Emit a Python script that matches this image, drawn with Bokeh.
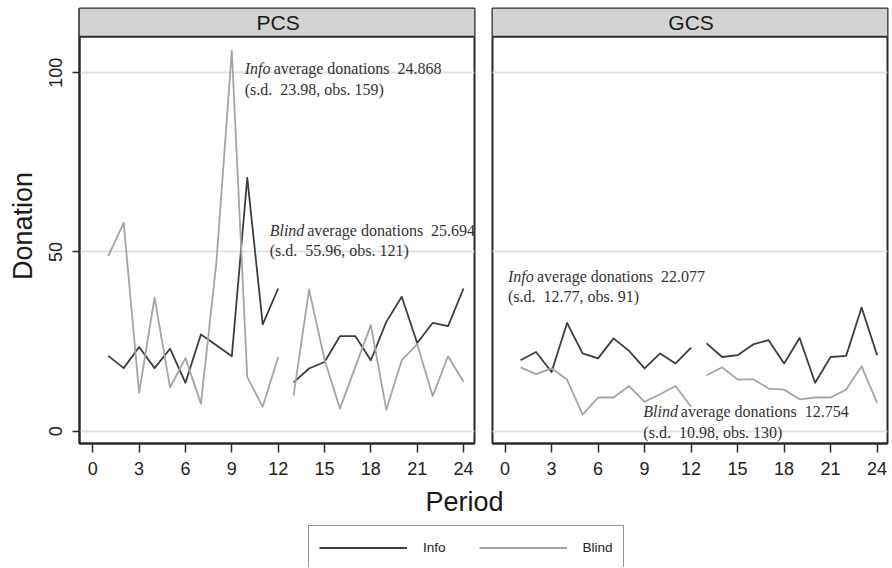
from bokeh.plotting import figure
from bokeh.models import (Label, Span, BoxAnnotation, FixedTicker, Legend, LegendItem,
                          Range1d, Grid)
from bokeh.layouts import column, row
from bokeh.embed import file_html
from bokeh.resources import INLINE

# ---------------- data ----------------
periods = list(range(1, 25))
x_ticks = [0, 3, 6, 9, 12, 15, 18, 21, 24]
y_ticks = [0, 50, 100]
panel_names = ["PCS", "GCS"]

pcs_info = [21.0, 17.6, 23.5, 17.6, 23.0, 13.5, 27.0, 24.0, 20.9, 70.7, 29.8, 39.8,
            13.6, 17.5, 19.3, 26.5, 26.5, 19.8, 30.5, 37.5, 24.6, 30.2, 29.3, 39.8]
pcs_blind = [48.8, 58.1, 10.7, 37.3, 12.2, 20.4, 7.7, 47.0, 106.1, 15.1, 6.8, 20.7,
             10.0, 39.5, 20.0, 6.3, 18.0, 29.6, 6.0, 19.8, 24.3, 9.8, 20.9, 13.8]
gcs_info = [19.8, 22.1, 16.5, 30.2, 21.7, 20.3, 25.9, 22.4, 17.5, 21.7, 18.9, 23.3,
            24.5, 20.7, 21.2, 24.2, 25.4, 18.9, 26.0, 13.5, 20.7, 21.0, 34.5, 21.2]
gcs_blind = [17.8, 15.9, 17.5, 14.4, 4.6, 9.4, 9.4, 12.6, 8.2, 10.3, 12.6, 6.8,
             15.6, 17.8, 14.4, 14.5, 11.9, 11.6, 8.9, 9.4, 9.4, 11.6, 18.1, 7.9]

series_labels = ["Info", "Blind"]

# annotation texts
ann_panel = ["PCS", "PCS", "GCS", "GCS"]
ann_word = ["Info", "Blind", "Info", "Blind"]
ann_mean = ["24.868", "25.694", "22.077", "12.754"]
ann_sd = ["23.98", "55.96", "12.77", "10.98"]
ann_obs = ["159", "121", "91", "130"]
ann_x = [9.83, 11.45, 0.19, 8.92]
ann_y1 = [101.2, 56.1, 43.1, 5.4]
ann_y2 = [95.3, 50.5, 37.5, -0.4]

# ---------------- style ----------------
INFO_COLOR = "#3d3d3d"
BLIND_COLOR = "#a5a5a5"
FRAME = "#2a2a2a"
GRID = "#e2e2e2"
STRIP = "#d3d3d3"
SANS = "Liberation Sans"
SERIF = "Liberation Serif"
word_offset = {"Info": 29, "Blind": 37.5}

Y0, Y1 = -3.43, 117.9
STRIP_BOTTOM = 110.05
NAN = float("nan")


def make_panel(name, info, blind, left_border, right_border, frame_w, xr, show_y):
    p = figure(frame_width=frame_w, frame_height=435,
               min_border_left=left_border, min_border_right=right_border,
               min_border_top=8, min_border_bottom=36,
               x_range=Range1d(*xr), y_range=Range1d(Y0, Y1),
               output_backend="svg", toolbar_location=None,
               y_axis_location="left" if show_y else None)
    p.background_fill_color = "white"
    p.border_fill_color = "white"
    p.outline_line_color = FRAME
    p.outline_line_width = 2
    p.grid.visible = False
    p.add_layout(Grid(dimension=1, ticker=FixedTicker(ticks=y_ticks),
                      grid_line_color=GRID, grid_line_width=2))

    xa = p.xaxis[0]
    xa.ticker = FixedTicker(ticks=x_ticks)
    xa.major_tick_out = 9
    xa.major_tick_in = 0
    xa.minor_tick_line_color = None
    xa.major_tick_line_color = FRAME
    xa.major_tick_line_width = 1.5
    xa.axis_line_color = FRAME
    xa.axis_line_width = 2
    xa.major_label_text_font = SANS
    xa.major_label_text_font_size = "18px"
    xa.major_label_text_color = "#222222"
    xa.major_label_standoff = 9

    if show_y:
        ya = p.yaxis[0]
        ya.ticker = FixedTicker(ticks=y_ticks)
        ya.major_label_orientation = "vertical"
        ya.major_tick_out = 7
        ya.major_tick_in = 0
        ya.minor_tick_line_color = None
        ya.major_tick_line_color = FRAME
        ya.major_tick_line_width = 1.5
        ya.axis_line_color = FRAME
        ya.axis_line_width = 2
        ya.major_label_text_font = SANS
        ya.major_label_text_font_size = "18px"
        ya.major_label_text_color = "#222222"
        ya.major_label_standoff = 10
        ya.axis_label = "Donation"
        ya.axis_label_text_font = SANS
        ya.axis_label_text_font_size = "27px"
        ya.axis_label_text_font_style = "normal"
        ya.axis_label_text_color = "#1a1a1a"
        ya.axis_label_standoff = 9

    for vals, col in [(info, INFO_COLOR), (blind, BLIND_COLOR)]:
        for a, b in [(0, 12), (12, 24)]:
            p.line(periods[a:b], vals[a:b], line_color=col, line_width=1.8,
                   line_join="round")

    # strip
    p.add_layout(BoxAnnotation(bottom=STRIP_BOTTOM, fill_color=STRIP, fill_alpha=1,
                               line_color=None))
    p.add_layout(Span(location=STRIP_BOTTOM, dimension="width", line_color=FRAME,
                      line_width=2))
    p.add_layout(Label(x=12, y=(STRIP_BOTTOM + Y1) / 2, text=name, text_align="center",
                       text_baseline="middle", text_font=SANS, text_font_size="21px",
                       text_color="#1a1a1a"))

    for i in range(len(ann_panel)):
        if ann_panel[i] != name:
            continue
        common = dict(text_font=SERIF, text_font_size="16px", text_color="#333333",
                      text_baseline="middle", text_align="left")
        p.add_layout(Label(x=ann_x[i], y=ann_y1[i], text=ann_word[i],
                           text_font_style="italic", **common))
        p.add_layout(Label(x=ann_x[i], y=ann_y1[i], x_offset=word_offset[ann_word[i]],
                           text="average donations\u00a0 " + ann_mean[i], **common))
        p.add_layout(Label(x=ann_x[i], y=ann_y2[i],
                           text="(s.d.\u00a0 " + ann_sd[i] + ", obs. " + ann_obs[i] + ")",
                           **common))
    return p


left = make_panel(panel_names[0], pcs_info, pcs_blind, 79, 9, 395, (-0.86, 24.71), True)
right = make_panel(panel_names[1], gcs_info, gcs_blind, 9, 5, 395, (-0.81, 24.67), False)

# bottom strip: x-axis title and legend
BH = 88
bottom = figure(width=892, height=BH, x_range=Range1d(0, 892), y_range=Range1d(0, BH),
                min_border=0, output_backend="svg", toolbar_location=None,
                x_axis_location=None, y_axis_location=None)
bottom.outline_line_color = None
bottom.grid.visible = False
bottom.add_layout(Label(x=464, y=BH - 22, x_units="screen", y_units="screen", text="Period",
                        text_align="center", text_baseline="middle", text_font=SANS,
                        text_font_size="27px", text_color="#1a1a1a"))
r_info = bottom.line(x=[NAN], y=[NAN], line_color=INFO_COLOR, line_width=2)
r_blind = bottom.line(x=[NAN], y=[NAN], line_color=BLIND_COLOR, line_width=2)
legend = Legend(items=[LegendItem(label=series_labels[0], renderers=[r_info]),
                       LegendItem(label=series_labels[1], renderers=[r_blind])],
                orientation="horizontal", location=(308, BH - 48 - 43), padding=10,
                spacing=33, glyph_width=88, glyph_height=23, label_standoff=16,
                label_text_font=SANS, label_text_font_size="13.5px",
                label_text_color="#222222", border_line_color=FRAME,
                border_line_width=1.5, margin=0)
bottom.add_layout(legend)

layout = column(row(left, right), bottom)
open("out.html", "w").write(file_html(layout, INLINE))
